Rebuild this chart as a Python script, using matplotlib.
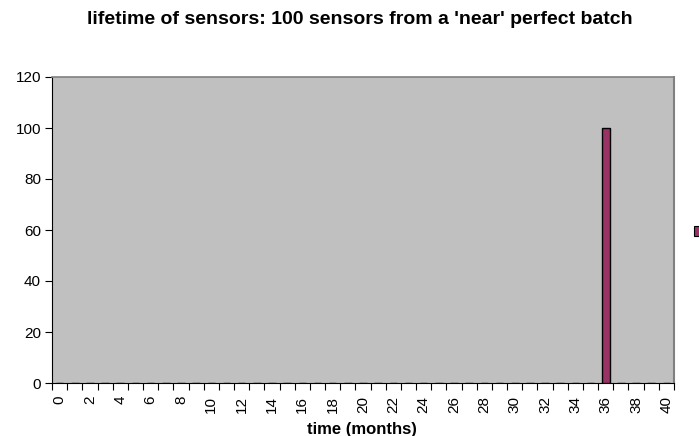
import matplotlib
matplotlib.use("Agg")
import matplotlib.pyplot as plt
from matplotlib.patches import Rectangle
import numpy as np

plt.rcParams['font.family'] = ['Liberation Sans', 'DejaVu Sans']

months = list(range(0, 41))
counts = [0] * 41
counts[36] = 100
title = "lifetime of sensors: 100 sensors from a 'near' perfect batch"
xlabel = "time (months)"
yticks = [0, 20, 40, 60, 80, 100, 120]

W, H = 699, 436
fig = plt.figure(figsize=(W / 100, H / 100), dpi=100)
L, R, T, B = 52, 674, 77, 383
ax = fig.add_axes([L / W, 1 - B / H, (R - L) / W, (B - T) / H])
ax.set_facecolor('#c0c0c0')

x = np.arange(len(months))
ax.bar(x, counts, width=0.5, color='#993366', edgecolor='black', linewidth=1.0, zorder=3)

ax.set_xlim(-0.5, len(months) - 0.5)
ax.set_ylim(0, 120)
ax.set_yticks(yticks)
ax.set_yticklabels([str(v) for v in yticks], fontsize=11)

ax.set_xticks(x[::2])
ax.set_xticklabels([str(m) for m in months[::2]], rotation=90, fontsize=11)
ax.tick_params(axis='x', which='major', length=0, pad=9)
ax.set_xticks(np.arange(-0.5, len(months), 1.0), minor=True)
ax.tick_params(axis='x', which='minor', length=5, width=0.8, color='black', direction='out')
ax.tick_params(axis='y', length=5, width=0.8, direction='out', pad=3)

ax.spines['top'].set_color('#808080')
ax.spines['top'].set_linewidth(1.2)
ax.spines['right'].set_color('#808080')
ax.spines['right'].set_linewidth(1.5)
ax.spines['left'].set_color('black')
ax.spines['bottom'].set_color('black')
ax.spines['left'].set_linewidth(0.8)
ax.spines['bottom'].set_linewidth(0.8)

fig.text(362 / W, 1 - 429 / H, xlabel, ha='center', va='center', fontsize=12, fontweight='bold')
fig.text(0.515, 1 - 20 / H, title, ha='center', va='center', fontsize=14, fontweight='bold')

# legend marker partially visible at the right edge
fig.patches.append(Rectangle((694 / W, 1 - 236 / H), 7 / W, 10 / H, transform=fig.transFigure,
                             facecolor='#993366', edgecolor='black', linewidth=0.8, clip_on=False))

fig.savefig('out.png', dpi=100)
